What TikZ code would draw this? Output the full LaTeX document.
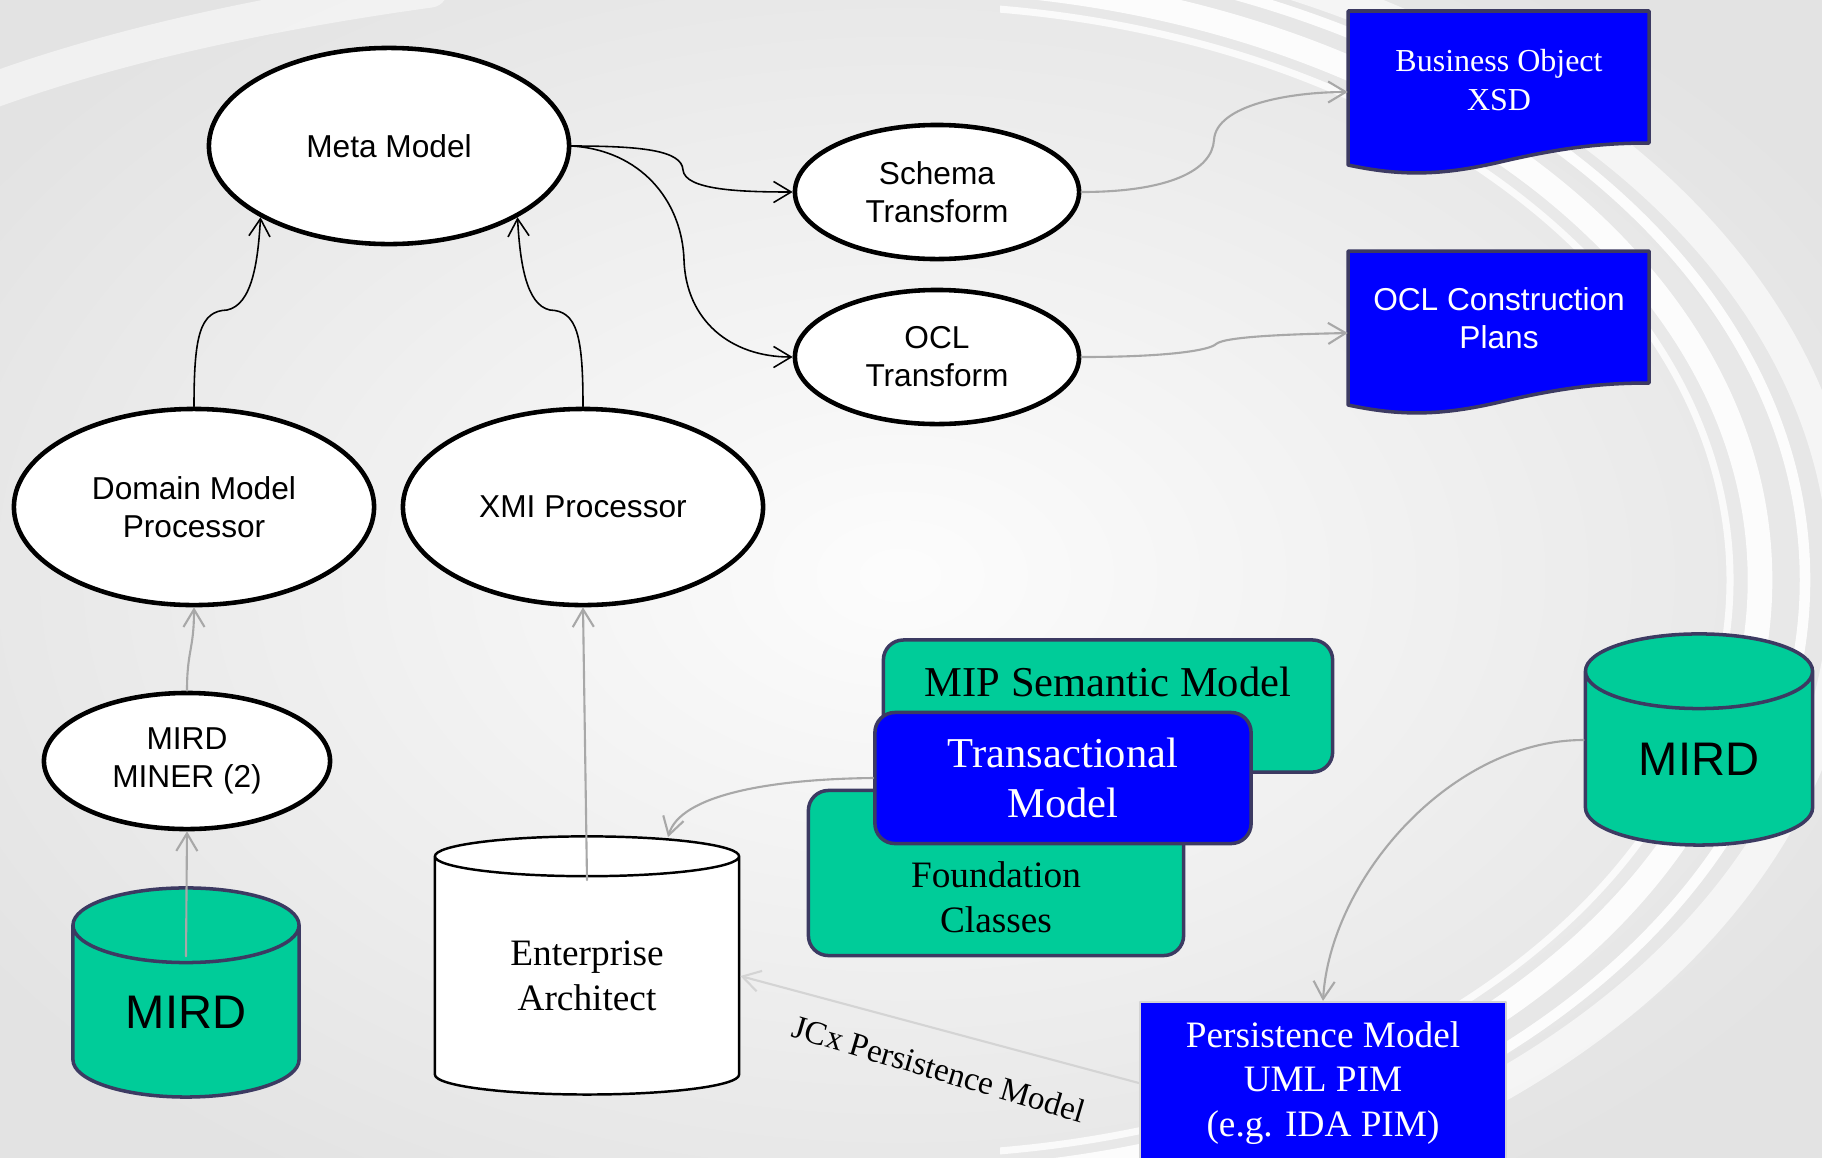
\documentclass[tikz,border=0pt]{standalone}
\usepackage{fontspec}
\setmainfont{Liberation Serif}
\setsansfont{Liberation Sans}
\usetikzlibrary{shapes.geometric,arrows.meta}
\definecolor{mint}{RGB}{0,204,153}
\definecolor{deepblue}{RGB}{0,0,255}
\definecolor{slate}{RGB}{60,58,98}
\definecolor{wire}{RGB}{168,168,168}
\definecolor{faint}{RGB}{212,212,212}
\tikzset{
  proc/.style={ellipse,draw=black,line width=1.3pt,fill=white,inner sep=0pt,align=center,
    font=\sffamily\fontsize{9}{10.8}\selectfont},
  store/.style={cylinder,shape border rotate=90,draw=slate,line width=1pt,fill=mint,inner sep=0pt,
    font=\sffamily\fontsize{13.4}{16}\selectfont},
  tile/.style={draw=slate,line width=1pt,rounded corners=0.2cm,inner sep=0pt},
  doc/.style={draw=slate,line width=1pt,fill=deepblue},
  doctext/.style={text=white,align=center,inner sep=0pt,minimum width=3.01cm},
  dataflow/.style={->,draw=wire,line width=0.6pt},
  ctrlflow/.style={->,draw=black,line width=0.45pt}
}

\begin{document}
\begin{tikzpicture}[line cap=round,line join=round,>={Straight Barb[length=5pt,width=6pt]},x=0.01cm,y=-0.01cm]
\useasboundingbox (0,0) rectangle (1822,1157);
\clip (0,0) rectangle (1822,1157);
% backdrop
\shade[inner color=gray!2,outer color=gray!22] (-200,-150) rectangle (2000,1300);
\begin{scope}
\clip (1000,0) rectangle (1822,1157);
\foreach \rx/\ry/\w/\o in {830/575/2/0.8, 860/600/7/0.9, 905/630/3/0.9, 945/655/9/0.6}
  \draw[white,line width=\w pt,opacity=\o] (900,580) ellipse ({\rx} and {\ry});
\end{scope}
\draw[white,line width=10pt,opacity=0.5] (-20,95) .. controls (100,50) and (250,15) .. (430,-10);

% processors
\node[proc,minimum width=3.6cm,minimum height=1.96cm] (meta) at (389,146) {Meta Model};
\node[proc,minimum width=2.84cm,minimum height=1.34cm] (schema) at (937,192) {Schema\\Transform};
\node[proc,minimum width=2.84cm,minimum height=1.34cm] (ocl) at (937,357) {OCL\\Transform};
\node[proc,minimum width=3.6cm,minimum height=1.96cm] (dmp) at (194,507) {Domain Model\\Processor};
\node[proc,minimum width=3.6cm,minimum height=1.96cm] (xmi) at (583,507) {XMI Processor};
\node[proc,minimum width=2.86cm,minimum height=1.36cm] (miner) at (187,761) {MIRD\\MINER (2)};

% stores
\node[store,minimum width=2.26cm,minimum height=2.09cm,aspect=0.62] (mirdA) at (186,1012) {MIRD};
\node[store,minimum width=2.27cm,minimum height=2.11cm,aspect=0.62] (mirdB) at (1699,759) {MIRD};
\node[store,draw=black,line width=0.7pt,fill=white,minimum width=3.04cm,minimum height=2.58cm,aspect=0.26,
  font=\rmfamily\fontsize{10.6}{12.7}\selectfont,align=center] (ea) at (587,976) {Enterprise\\Architect};

% documents
\draw[doc] (1348,11) -- (1649,11) -- (1649,143) .. controls (1600,143) and (1560,148) .. (1500,162)
  .. controls (1440,176) and (1400,176) .. (1348,165) -- cycle;
\draw[doc] (1348,251) -- (1649,251) -- (1649,383) .. controls (1600,383) and (1560,388) .. (1500,402)
  .. controls (1440,416) and (1400,416) .. (1348,405) -- cycle;
\node[doctext,font=\rmfamily\fontsize{9.1}{10.9}\selectfont] (bo) at (1499,80) {Business Object\\XSD};
\node[doctext,font=\sffamily\fontsize{9}{10.8}\selectfont] (plans) at (1499,318) {OCL Construction\\Plans};

% model tiles
\node[tile,fill=mint,minimum width=4.49cm,minimum height=1.32cm] (mip) at (1108,706) {};
\node[font=\rmfamily\fontsize{12.1}{14.5}\selectfont] (miptext) at (1108,682) {MIP Semantic Model};
\node[tile,fill=mint,minimum width=3.75cm,minimum height=1.65cm] (found) at (996,873) {};
\node[font=\rmfamily\fontsize{10.6}{12.7}\selectfont,align=center] (foundtext) at (996,897) {Foundation\\Classes};
\node[tile,fill=deepblue,text=white,minimum width=3.76cm,minimum height=1.31cm,align=center,
  font=\rmfamily\fontsize{12.1}{14.2}\selectfont] (trans) at (1063,778) {Transactional\\Model};

\node[rectangle,draw=faint,line width=0.6pt,fill=deepblue,text=white,align=center,minimum width=3.66cm,
  minimum height=1.62cm,font=\rmfamily\fontsize{10.6}{12.7}\selectfont] (pers) at (1323,1083)
  {Persistence Model\\UML PIM\\(e.g. IDA PIM)};
\node[rotate=-16.5,font=\rmfamily\fontsize{9.4}{11}\selectfont] (jcx) at (939,1069) {JCx Persistence Model};

% connectors
\draw[ctrlflow] (dmp.north) .. controls (194,335) and (200,311) .. (227,310)
  .. controls (252,305) and (258,262) .. (meta.-151);
\draw[ctrlflow] (xmi.north) .. controls (583,335) and (577,311) .. (550,310)
  .. controls (526,305) and (520,262) .. (meta.-29);
\draw[ctrlflow] (meta.east) .. controls (640,146) and (682,150) .. (683,170)
  .. controls (685,190) and (740,192) .. (schema.west);
\draw[ctrlflow] (meta.east) .. controls (640,150) and (682,200) .. (684,260)
  .. controls (686,320) and (730,357) .. (ocl.west);
\draw[dataflow] (schema.east) .. controls (1170,192) and (1212,170) .. (1214,140)
  .. controls (1216,105) and (1290,92) .. ([yshift=-0.12cm]bo.west);
\draw[dataflow] (ocl.east) .. controls (1170,357) and (1210,350) .. (1216,344)
  .. controls (1225,336) and (1300,334) .. ([yshift=-0.15cm]plans.west);
\draw[dataflow] (miner.north) .. controls (187,650) and (194,650) .. (dmp.south);
\draw[dataflow] ([yshift=-0.7cm]mirdA.north) -- (miner.south);
\draw[dataflow] ([yshift=-0.45cm]ea.north) -- (xmi.south);
\draw[dataflow] (trans.west) .. controls (770,779) and (680,795) .. ([xshift=0.81cm,yshift=-0.02cm]ea.north);
\draw[dataflow] ([yshift=0.19cm]mirdB.west) .. controls (1450,740) and (1330,880) .. (pers.north);
\draw[dataflow,draw=faint] (pers.west) -- (ea.east);
\end{tikzpicture}
\end{document}
